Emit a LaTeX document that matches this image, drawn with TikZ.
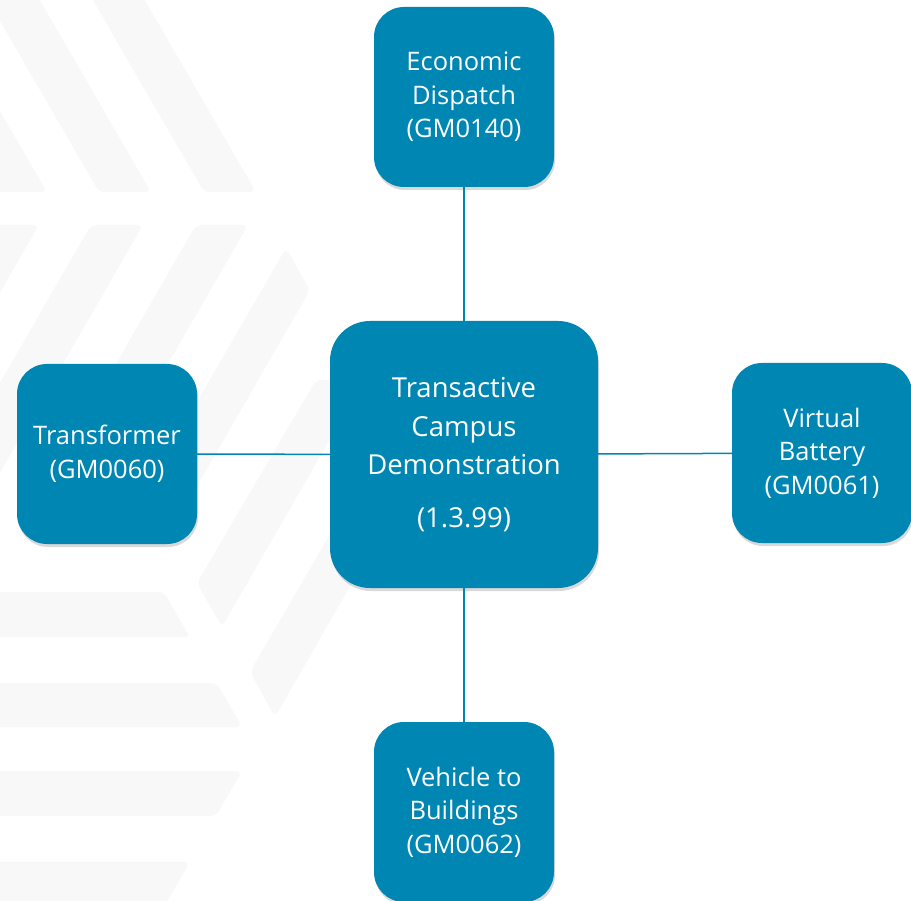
\documentclass[tikz,border=0pt]{standalone}
\usepackage{fontspec}
\setmainfont{Open Sans}
\usetikzlibrary{shadows}
\definecolor{gmblue}{RGB}{0,134,179}
\definecolor{bggray}{RGB}{248,248,248}

\begin{document}
\begin{tikzpicture}[x=1pt, y=-1pt, line join=round]
\tikzset{
    gmbox/.style={fill=gmblue, text=white, align=center, inner sep=2pt,
        minimum width=180pt, minimum height=180pt, rounded corners=30pt,
        font=\fontsize{25.5}{33.5}\selectfont,
        drop shadow={shadow xshift=1pt, shadow yshift=-3pt, opacity=0.3}},
    mainbox/.style={gmbox, minimum width=268pt, minimum height=267pt,
        rounded corners=40pt, font=\fontsize{27.5}{38.5}\selectfont},
    link/.style={draw=gmblue, line width=1.5pt},
    stripe/.style={fill=bggray, rounded corners=6pt}
}
\useasboundingbox (0,0) rectangle (911,901);
% faint logo stripes behind the boxes
\begin{scope}
\clip (0,0) rectangle (911,901);
\foreach \r in {47,151,256}
    \fill[stripe] (\r-169,-10) -- (\r-117,-10) -- (\r,192) -- (\r-52,192) -- cycle;
\foreach \r in {39,143,248}
    \fill[stripe] (\r-52,225) -- (\r,225) -- (\r-176,530) -- (\r-228,530) -- cycle;
\fill[stripe] (286,248) -- (310,290) -- (172,530) -- (123,530) -- cycle;
\fill[stripe] (197,583) -- (222,627) -- (364,380) -- (316,380) -- cycle;
\fill[stripe] (250,672) -- (275,717) -- (417,470) -- (367,470) -- cycle;
\fill[stripe] (-10,592) -- (164,592) -- (190,637) -- (-10,637) -- cycle;
\fill[stripe] (-10,683) -- (217,683) -- (242,727) -- (-10,727) -- cycle;
\fill[stripe] (-10,771) -- (242,771) -- (216,816) -- (-10,816) -- cycle;
\fill[stripe] (-10,862) -- (190,862) -- (164,907) -- (-10,907) -- cycle;
\end{scope}

\node[mainbox] (tcd) at (464,454.5) {Transactive\\Campus\\Demonstration\\[14pt](1.3.99)};
\node[gmbox] (ed) at (464,97) {Economic\\Dispatch\\(GM0140)};
\node[gmbox] (tr) at (107,454) {Transformer\\(GM0060)};
\node[gmbox] (vb) at (822,453) {Virtual\\Battery\\(GM0061)};
\node[gmbox] (vtb) at (464,812) {Vehicle to\\Buildings\\(GM0062)};

\draw[link] (ed) -- (tcd);
\draw[link] (tcd) -- (vtb);
\draw[link] (tr) -- (tcd);
\draw[link] (tcd) -- (vb);
\end{tikzpicture}
\end{document}
